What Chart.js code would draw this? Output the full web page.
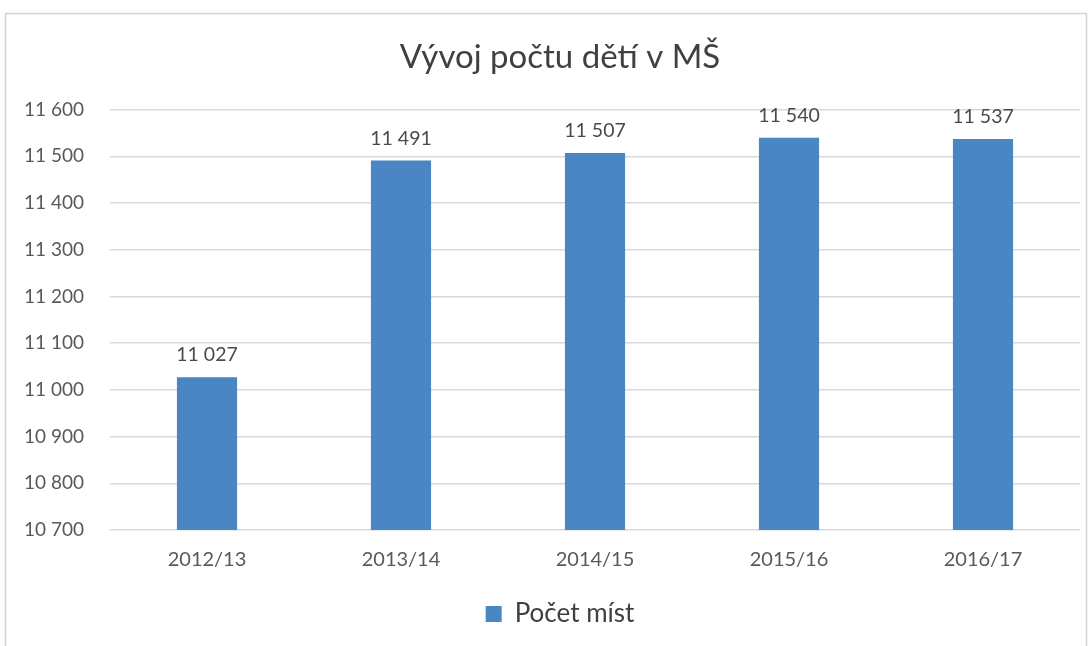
<!DOCTYPE html>
<html>
<head>
<meta charset="utf-8">
<script src="https://cdn.jsdelivr.net/npm/chart.js@4.4.0/dist/chart.umd.min.js"></script>
<style>
html,body{margin:0;padding:0;background:#fff;}
#wrap{width:1092px;height:646px;position:relative;}
</style>
</head>
<body>
<div id="wrap"><canvas id="c" width="1092" height="646"></canvas></div>
<script>
const categories = ["2012/13", "2013/14", "2014/15", "2015/16", "2016/17"];
const seriesName = "Počet míst";
const values = [11027, 11491, 11507, 11540, 11537];
const yMin = 10700, yMax = 11600, yStep = 100;
const titleText = "Vývoj počtu dětí v MŠ";

function fmt(v){ return String(v).replace(/\B(?=(\d{3})+(?!\d))/g, " "); }

const FONT = "Lato, 'Open Sans', sans-serif";

const frame = {
  id: 'frame',
  beforeDraw(chart){
    const ctx = chart.ctx;
    ctx.save();
    ctx.fillStyle = '#fff';
    ctx.fillRect(0,0,chart.width,chart.height);
    ctx.strokeStyle = '#d4d4d4';
    ctx.lineWidth = 1.5;
    ctx.strokeRect(5.5, 13.5, chart.width - 11, chart.height);
    ctx.restore();
  }
};

// shift title and legend boxes slightly right (reference centres them at ~x=560)
const shiftBoxes = {
  id: 'shiftBoxes',
  afterLayout(chart){
    const dx = 15;
    [chart.titleBlock, chart.legend].forEach(b => {
      if (b) { b.left += dx; b.right += dx; }
    });
  }
};

const labelsPlugin = {
  id: 'valueLabels',
  afterDatasetsDraw(chart){
    const ctx = chart.ctx;
    const meta = chart.getDatasetMeta(0);
    ctx.save();
    ctx.font = "19.5px " + FONT;
    ctx.fillStyle = '#4a4a4a';
    ctx.textAlign = 'center';
    ctx.textBaseline = 'alphabetic';
    meta.data.forEach((bar, i) => {
      ctx.fillText(fmt(values[i]), bar.x, bar.y - 16);
    });
    ctx.restore();
  }
};

new Chart(document.getElementById('c'), {
  type: 'bar',
  data: {
    labels: categories,
    datasets: [{
      label: seriesName,
      data: values,
      backgroundColor: '#4a86c4',
      borderWidth: 0,
      categoryPercentage: 1,
      barPercentage: 0.31
    }]
  },
  options: {
    responsive: false,
    animation: false,
    layout: { padding: { top: 38, left: 10, right: 12, bottom: 9 } },
    scales: {
      x: {
        grid: { display: false, drawTicks: false },
        border: { display: false },
        ticks: { color: '#595959', font: { family: FONT, size: 20 }, padding: 18 },
        afterFit(s){ s.height = 61; }
      },
      y: {
        min: yMin, max: yMax,
        ticks: { stepSize: yStep, color: '#595959', font: { family: FONT, size: 19 }, padding: 26,
                 callback: v => fmt(v) },
        grid: { color: '#d9d9d9', lineWidth: 1.5, drawTicks: false },
        border: { display: false },
        afterFit(s){ s.width = 100; }
      }
    },
    plugins: {
      title: {
        display: true, text: titleText, color: '#404040',
        font: { family: FONT, size: 33, weight: 'normal' },
        padding: { top: 0, bottom: 32 }
      },
      legend: {
        position: 'bottom',
        labels: { color: '#404040', font: { family: FONT, size: 26 }, boxWidth: 16, boxHeight: 16, padding: 10 }
      },
      tooltip: { enabled: false }
    }
  },
  plugins: [frame, shiftBoxes, labelsPlugin]
});
</script>
</body>
</html>
